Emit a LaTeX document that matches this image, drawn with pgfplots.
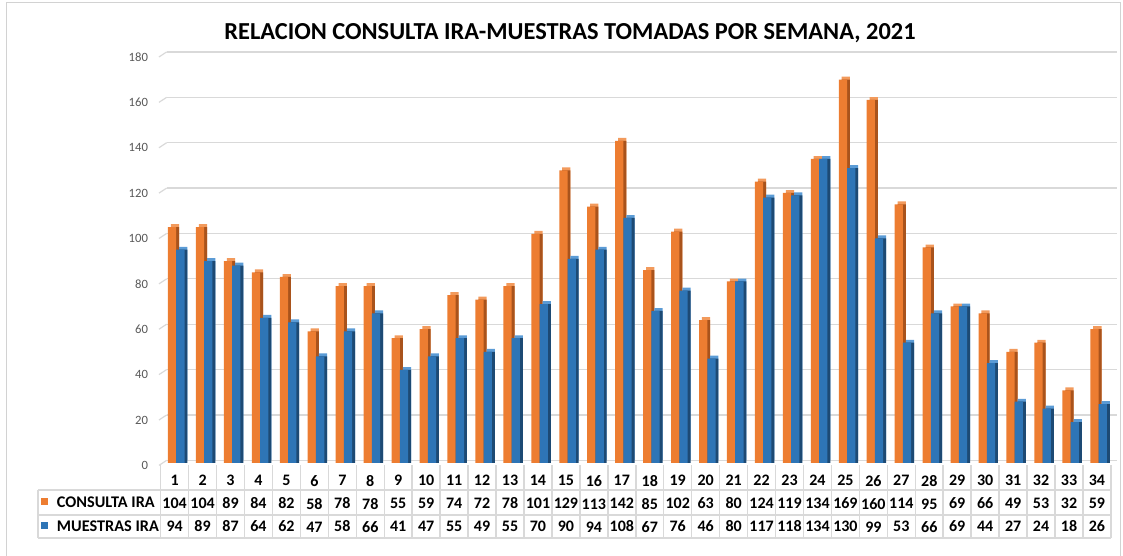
\documentclass[border=0pt]{standalone}
\usepackage{pgfplots}
\pgfplotsset{compat=1.18}
\usepackage{pgfplotstable}
\usepackage{fontspec}
\setmainfont{Carlito}

\definecolor{cOr}{HTML}{ED7D31}
\definecolor{cOrD}{HTML}{A9531C}
\definecolor{cOrL}{HTML}{F29A5C}
\definecolor{cBl}{HTML}{2E75B6}
\definecolor{cBlD}{HTML}{1D4A74}
\definecolor{cBlL}{HTML}{5B9BD5}
\definecolor{gridc}{HTML}{D9D9D9}
\definecolor{tickc}{HTML}{595959}

% semana, consulta IRA, muestras IRA
\pgfplotstableread{
sem consulta muestras
1 104 94
2 104 89
3 89 87
4 84 64
5 82 62
6 58 47
7 78 58
8 78 66
9 55 41
10 59 47
11 74 55
12 72 49
13 78 55
14 101 70
15 129 90
16 113 94
17 142 108
18 85 67
19 102 76
20 63 46
21 80 80
22 124 117
23 119 118
24 134 134
25 169 130
26 160 99
27 114 53
28 95 66
29 69 69
30 66 44
31 49 27
32 53 24
33 32 18
34 59 26
}\datos

\begin{document}
\begin{tikzpicture}
\useasboundingbox (0pt,0pt) rectangle (842.25pt,417pt);
\draw[gray!35, line width=0.75pt] (5pt,0pt) -- (5pt,414.75pt) -- (840pt,414.75pt) -- (840pt,0pt);

\node[font=\bfseries\fontsize{18.3}{21}\selectfont] at (427.5pt,392.5pt)
  {RELACION CONSULTA IRA-MUESTRAS TOMADAS POR SEMANA, 2021};

% tabla de datos
\foreach \k in {0,...,34}
  \draw[gridc, line width=1.1pt] ({120.5pt+20.96pt*\k},13.5pt) -- ({120.5pt+20.96pt*\k},68.25pt);
\draw[gridc, line width=1.1pt] (28.5pt,13.5pt) -- (28.5pt,49.5pt);
\draw[gridc, line width=1.1pt] (28.5pt,49.5pt) -- (833.2pt,49.5pt);
\draw[gridc, line width=1.1pt] (28.5pt,30.75pt) -- (833.2pt,30.75pt);
\draw[gridc, line width=1.1pt] (28.5pt,13.5pt) -- (833.2pt,13.5pt);
\fill[cOr] (31.1pt,38.1pt) rectangle ++(5.25pt,5.25pt);
\fill[cBl] (31.1pt,19.9pt) rectangle ++(5.25pt,5.25pt);
\node[anchor=west, inner sep=0pt, font=\bfseries\fontsize{12.2}{14}\selectfont] at (42.5pt,40.7pt) {CONSULTA IRA};
\node[anchor=west, inner sep=0pt, font=\bfseries\fontsize{12.2}{14}\selectfont] at (42.5pt,22.5pt) {MUESTRAS IRA};

\begin{axis}[
  at={(120.5pt,69.75pt)}, anchor=south west,
  scale only axis, width=712.7pt, height=306.3pt,
  xmin=0.5, xmax=34.5, ymin=0, ymax=180,
  ybar, bar width=6.2pt,
  axis line style={draw=none},
  major tick length=0pt,
  ytick={0,20,...,180},
  ymajorgrids,
  major grid style={draw=gridc, line width=0.9pt, xshift=4.5pt, yshift=2pt},
  yticklabel style={font=\fontsize{9.5}{11}\selectfont, text=tickc, xshift=-6pt, yshift=-1.8pt},
  /pgf/number format/assume math mode=true,
  xtick={1,...,34},
  xticklabels={
    {1\\104\\94},{2\\104\\89},{3\\89\\87},{4\\84\\64},{5\\82\\62},
    {6\\58\\47},{7\\78\\58},{8\\78\\66},{9\\55\\41},{10\\59\\47},
    {11\\74\\55},{12\\72\\49},{13\\78\\55},{14\\101\\70},{15\\129\\90},
    {16\\113\\94},{17\\142\\108},{18\\85\\67},{19\\102\\76},{20\\63\\46},
    {21\\80\\80},{22\\124\\117},{23\\119\\118},{24\\134\\134},{25\\169\\130},
    {26\\160\\99},{27\\114\\53},{28\\95\\66},{29\\69\\69},{30\\66\\44},
    {31\\49\\27},{32\\53\\24},{33\\32\\18},{34\\59\\26}},
  xticklabel style={align=center, font=\bfseries\fontsize{12}{17.25}\selectfont,
    anchor=north, inner sep=0pt, yshift=-9pt},
  clip=false,
]
% diagonales de la pared lateral
\pgfplotsinvokeforeach{0,20,...,180}{
  \draw[gridc, line width=0.9pt] ([xshift=-1.3pt,yshift=-1.8pt]axis cs:0.5,#1) -- ([xshift=4.5pt,yshift=2pt]axis cs:0.5,#1);
}
% consulta IRA: cara superior, lateral y frontal
\addplot[draw=none, fill=cOrL, bar shift=0.3pt, yshift=2.2pt] table[x=sem, y=consulta] {\datos};
\addplot[draw=none, fill=cOrD, bar shift=0.3pt] table[x=sem, y=consulta] {\datos};
\addplot[draw=none, fill=cOr, bar shift=-1.9pt] table[x=sem, y=consulta] {\datos};
% muestras IRA
\addplot[draw=none, fill=cBlL, bar shift=6.5pt, yshift=2.2pt] table[x=sem, y=muestras] {\datos};
\addplot[draw=none, fill=cBlD, bar shift=6.5pt] table[x=sem, y=muestras] {\datos};
\addplot[draw=none, fill=cBl, bar shift=4.3pt] table[x=sem, y=muestras] {\datos};
\end{axis}
\end{tikzpicture}
\end{document}
